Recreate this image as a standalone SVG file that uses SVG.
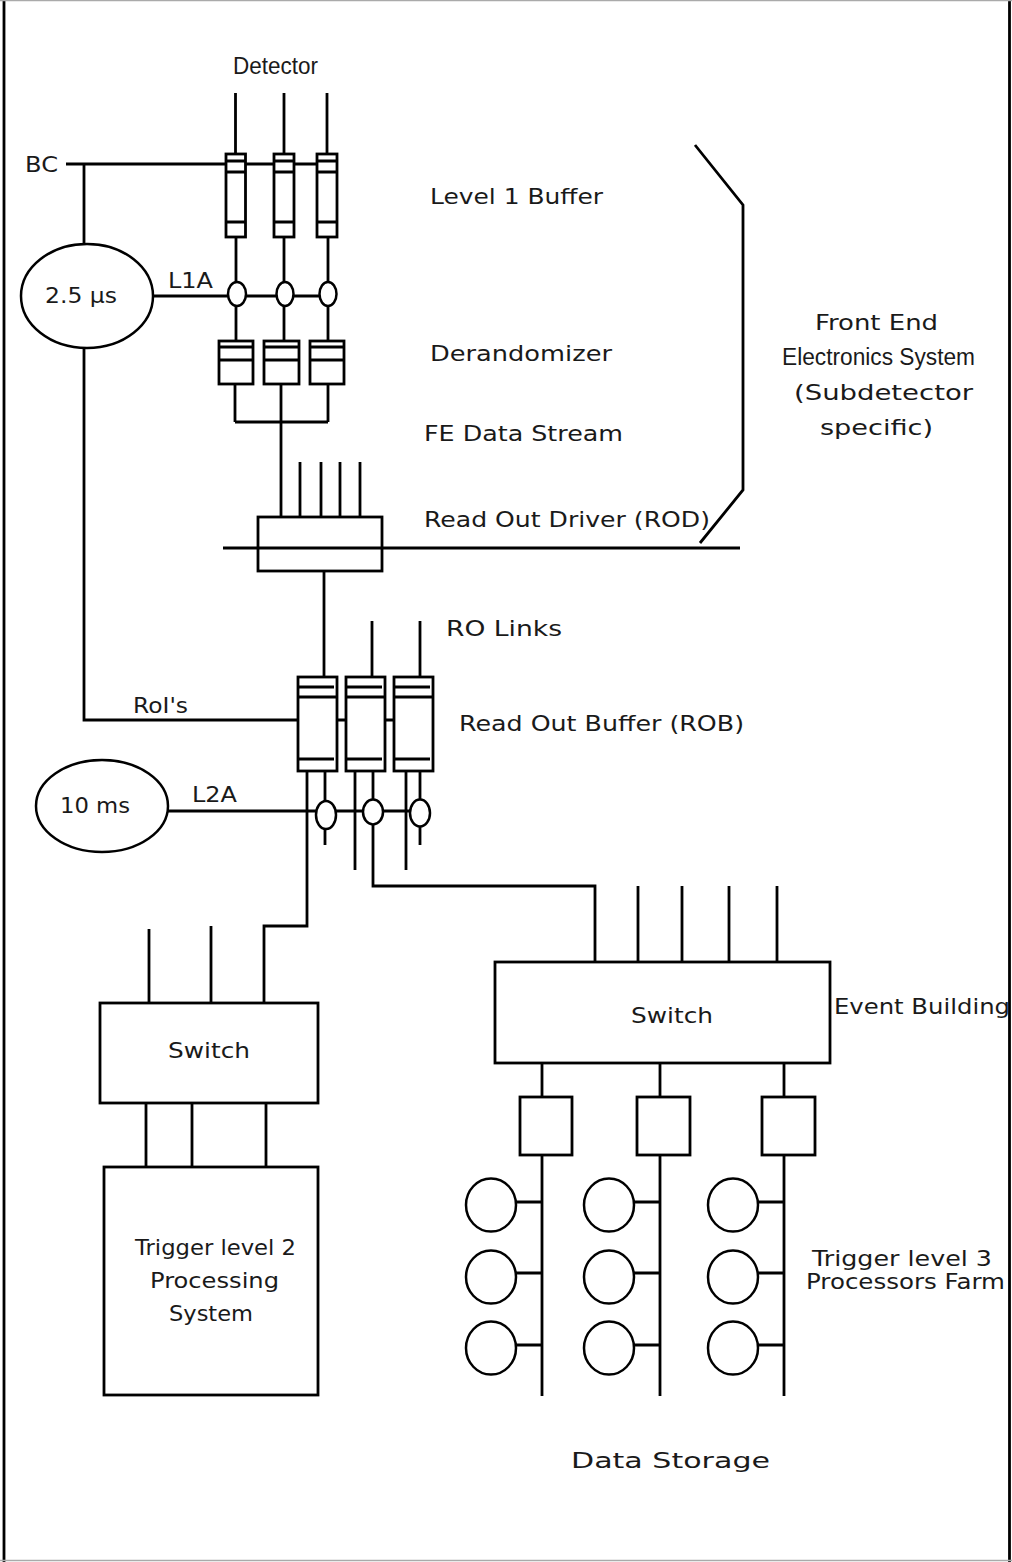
<svg xmlns="http://www.w3.org/2000/svg" width="1012" height="1562" viewBox="0 0 1012 1562">
<style>
.l{fill:none;stroke:#000;stroke-width:2.8;stroke-linecap:butt}
.b{fill:#fff;stroke:#000;stroke-width:2.8}
.c{fill:#fff;stroke:#000;stroke-width:2.5}
text{font-family:"DejaVu Sans","Liberation Sans",sans-serif;font-size:22px;fill:#1a1a1a}
text.n{font-family:"Liberation Sans","DejaVu Sans",sans-serif;font-size:23px}
</style>
<rect x="0" y="0" width="1012" height="1562" fill="#fff"/>
<g id="frame">
<path class="l" d="M4,1562 V0 M1009.5,0 V1562" stroke-width="3"/>
<line x1="0" y1="0.5" x2="1012" y2="0.5" stroke="#aaa" stroke-width="1.5"/>
<line x1="0" y1="1560.5" x2="1012" y2="1560.5" stroke="#aaa" stroke-width="1.5"/>
</g>
<g id="connectors">
<path class="l" d="M235.5,93 V154 M284,93 V154 M327,93 V154"/>
<path class="l" d="M66,164 H327 M84,164 V244 M84,348 V720 H433"/>
<path class="l" d="M236,237 V341 M284,237 V341 M328,237 V341"/>
<path class="l" d="M153,296 H328"/>
<path class="l" d="M235,384 V422 M328,384 V422 M235,422 H328 M281,384 V517"/>
<path class="l" d="M300,462 V517 M321,462 V517 M340,462 V517 M360,462 V517"/>
<path class="l" d="M223,548 H740"/>
<path class="l" d="M695,145 L743,205 V490 L700,543"/>
<path class="l" d="M324,571 V677"/>
<path class="l" d="M372,621 V677 M420,621 V677"/>
<path class="l" d="M307,771 V926 H264 V1003"/>
<path class="l" d="M325,771 V845 M355,771 V870 M373,771 V886 H595 V962 M406,771 V870 M420,771 V845"/>
<path class="l" d="M167,811 H420"/>
<path class="l" d="M149,929 V1003 M211,926 V1003"/>
<path class="l" d="M146,1103 V1167 M192,1103 V1167 M266,1103 V1167"/>
<path class="l" d="M638,886 V962 M682,886 V962 M729,886 V962 M777,886 V962"/>
<path class="l" d="M542,1063 V1097 M660,1063 V1097 M784,1063 V1097"/>
<path class="l" d="M542,1155 V1396 M660,1155 V1396 M784,1155 V1396"/>
<path class="l" d="M516,1202 H542 M516,1273 H542 M516,1345 H542"/>
<path class="l" d="M634,1202 H660 M634,1273 H660 M634,1345 H660"/>
<path class="l" d="M758,1202 H784 M758,1273 H784 M758,1345 H784"/>
</g>
<g id="labels-free">
<text class="n" x="233" y="74" textLength="85" lengthAdjust="spacingAndGlyphs">Detector</text>
<text x="25" y="172" textLength="33" lengthAdjust="spacingAndGlyphs">BC</text>
<text x="430" y="204" textLength="173" lengthAdjust="spacingAndGlyphs">Level 1 Buffer</text>
<text x="168" y="288" textLength="45" lengthAdjust="spacingAndGlyphs">L1A</text>
<text x="430" y="361" textLength="182" lengthAdjust="spacingAndGlyphs">Derandomizer</text>
<text x="424" y="441" textLength="199" lengthAdjust="spacingAndGlyphs">FE Data Stream</text>
<text x="424" y="527" textLength="286" lengthAdjust="spacingAndGlyphs">Read Out Driver (ROD)</text>
<text x="446" y="636" textLength="116" lengthAdjust="spacingAndGlyphs">RO Links</text>
<text x="133" y="713" textLength="55" lengthAdjust="spacingAndGlyphs">RoI's</text>
<text x="459" y="731" textLength="285" lengthAdjust="spacingAndGlyphs">Read Out Buffer (ROB)</text>
<text x="192" y="802" textLength="45" lengthAdjust="spacingAndGlyphs">L2A</text>
<text x="834" y="1014" textLength="176" lengthAdjust="spacingAndGlyphs">Event Building</text>
<text x="571" y="1468" textLength="199" lengthAdjust="spacingAndGlyphs">Data Storage</text>
</g>
<g id="fe-system">
<text x="815" y="330" textLength="123" lengthAdjust="spacingAndGlyphs">Front End</text>
<text class="n" x="782" y="365" textLength="193" lengthAdjust="spacingAndGlyphs">Electronics System</text>
<text x="794" y="400" textLength="179" lengthAdjust="spacingAndGlyphs">(Subdetector</text>
<text x="820" y="435" textLength="113" lengthAdjust="spacingAndGlyphs">specific)</text>
</g>
<g id="timer-l1">
<ellipse class="c" cx="87" cy="296" rx="66" ry="52"/>
<text x="45" y="303" textLength="72" lengthAdjust="spacingAndGlyphs">2.5 µs</text>
</g>
<g id="l1-buffers">
<rect class="b" x="226" y="154" width="19.5" height="83"/>
<rect class="b" x="274" y="154" width="20" height="83"/>
<rect class="b" x="317" y="154" width="20" height="83"/>
<path class="l" d="M226,161 H245.5 M226,172 H245.5 M226,222 H245.5 M274,161 H294 M274,172 H294 M274,222 H294 M317,161 H337 M317,172 H337 M317,222 H337"/>
</g>
<g id="l1a-gates">
<ellipse class="c" cx="237" cy="294" rx="9" ry="12"/>
<ellipse class="c" cx="285" cy="294" rx="8.5" ry="12"/>
<ellipse class="c" cx="328" cy="294" rx="8.5" ry="12"/>
</g>
<g id="derandomizers">
<rect class="b" x="219" y="341" width="34" height="43"/>
<rect class="b" x="264" y="341" width="35" height="43"/>
<rect class="b" x="310" y="341" width="34" height="43"/>
<path class="l" d="M219,347 H253 M219,360 H253 M264,347 H299 M264,360 H299 M310,347 H344 M310,360 H344"/>
</g>
<g id="rod">
<rect class="l" x="258" y="517" width="124" height="54"/>
</g>
<g id="robs">
<rect class="b" x="298" y="677" width="39" height="94"/>
<rect class="b" x="346" y="677" width="39" height="94"/>
<rect class="b" x="394" y="677" width="39" height="94"/>
<path class="l" d="M298,687 H334 M298,697 H337 M298,759 H334 M346,687 H382 M346,697 H385 M346,759 H382 M394,687 H430 M394,697 H433 M394,759 H430"/>
</g>
<g id="l2a-gates">
<ellipse class="c" cx="326" cy="815" rx="10" ry="14"/>
<ellipse class="c" cx="373" cy="812" rx="10" ry="12.5"/>
<ellipse class="c" cx="420" cy="813" rx="10" ry="13.5"/>
</g>
<g id="timer-l2">
<ellipse class="c" cx="102" cy="806" rx="66" ry="46"/>
<text x="60" y="813" textLength="70" lengthAdjust="spacingAndGlyphs">10 ms</text>
</g>
<g id="switch-l2">
<rect class="b" x="100" y="1003" width="218" height="100"/>
<text x="168" y="1058" textLength="82" lengthAdjust="spacingAndGlyphs">Switch</text>
</g>
<g id="trigger-l2">
<rect class="b" x="104" y="1167" width="214" height="228"/>
<text x="135" y="1255" textLength="161" lengthAdjust="spacingAndGlyphs">Trigger level 2</text>
<text x="150" y="1288" textLength="129" lengthAdjust="spacingAndGlyphs">Processing</text>
<text x="169" y="1321" textLength="84" lengthAdjust="spacingAndGlyphs">System</text>
</g>
<g id="switch-eb">
<rect class="b" x="495" y="962" width="335" height="101"/>
<text x="631" y="1023" textLength="82" lengthAdjust="spacingAndGlyphs">Switch</text>
</g>
<g id="farm-nodes">
<rect class="b" x="520" y="1097" width="52" height="58"/>
<rect class="b" x="637" y="1097" width="53" height="58"/>
<rect class="b" x="762" y="1097" width="53" height="58"/>
</g>
<g id="processors">
<ellipse class="c" cx="491" cy="1205" rx="25" ry="26.5"/>
<ellipse class="c" cx="491" cy="1277" rx="25" ry="26.5"/>
<ellipse class="c" cx="491" cy="1348" rx="25" ry="26.5"/>
<ellipse class="c" cx="609" cy="1205" rx="25" ry="26.5"/>
<ellipse class="c" cx="609" cy="1277" rx="25" ry="26.5"/>
<ellipse class="c" cx="609" cy="1348" rx="25" ry="26.5"/>
<ellipse class="c" cx="733" cy="1205" rx="25" ry="26.5"/>
<ellipse class="c" cx="733" cy="1277" rx="25" ry="26.5"/>
<ellipse class="c" cx="733" cy="1348" rx="25" ry="26.5"/>
</g>
<g id="trigger-l3">
<text x="812" y="1266" textLength="180" lengthAdjust="spacingAndGlyphs">Trigger level 3</text>
<text x="806" y="1289" textLength="199" lengthAdjust="spacingAndGlyphs">Processors Farm</text>
</g>
</svg>
